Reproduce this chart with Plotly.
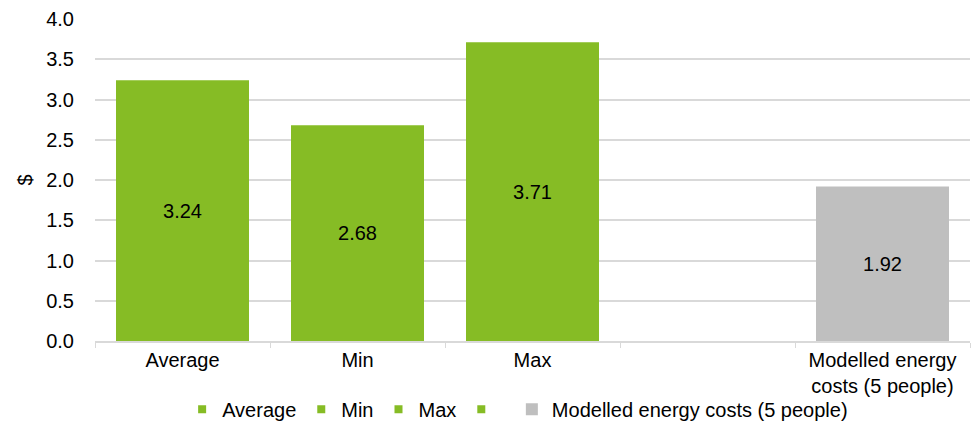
import plotly.graph_objects as go

categories = ["Average", "Min", "Max", " ", "Modelled energy<br>costs (5 people)"]
series_names = ["Average", "Min", "Max", " ", "Modelled energy costs (5 people)"]
values = [3.24, 2.68, 3.71, None, 1.92]
labels = ["3.24", "2.68", "3.71", "", "1.92"]
colors = ["#86BC25", "#86BC25", "#86BC25", "#86BC25", "#BFBFBF"]
legend_sizes = [8, 8, 8, 8, 12]
y_ticks = [0, 0.5, 1.0, 1.5, 2.0, 2.5, 3.0, 3.5, 4.0]
y_ticklabels = ["0.0", "0.5", "1.0", "1.5", "2.0", "2.5", "3.0", "3.5", "4.0"]

FONT = "Liberation Sans, Arial, sans-serif"
FS = 20

fig = go.Figure()
for i in range(len(categories)):
    fig.add_trace(go.Bar(
        x=[categories[i]], y=[values[i]],
        text=[labels[i]], textposition="inside", insidetextanchor="middle",
        textangle=0, constraintext="none",
        textfont=dict(family=FONT, size=FS, color="#000000"),
        marker=dict(color=colors[i], line=dict(width=0)),
        showlegend=False, hoverinfo="skip", cliponaxis=False,
    ))
for i in range(len(series_names)):
    fig.add_trace(go.Scatter(
        x=[None], y=[None], mode="markers", name=series_names[i],
        marker=dict(symbol="square", size=legend_sizes[i], color=colors[i]),
        showlegend=True,
    ))

fig.update_layout(
    width=980, height=425,
    margin=dict(l=95, r=10, t=19, b=84, autoexpand=False),
    paper_bgcolor="white", plot_bgcolor="white",
    barmode="overlay", bargap=0.24,
    font=dict(family=FONT, size=FS, color="#000000"),
    legend=dict(orientation="h", x=0.483, xanchor="center",
                yref="container", y=0.037, yanchor="middle",
                font=dict(family=FONT, size=FS), itemwidth=30, traceorder="normal",
                bgcolor="rgba(0,0,0,0)"),
    xaxis=dict(type="category", categoryorder="array", categoryarray=categories,
               range=[-0.5, 4.5], showline=True, linecolor="#D9D9D9", linewidth=1.5,
               ticks="outside", tickson="boundaries", ticklen=5, tickcolor="#D9D9D9",
               showgrid=False, automargin=False, tickfont=dict(family=FONT, size=FS)),
    yaxis=dict(range=[0, 4], tickvals=y_ticks, ticktext=y_ticklabels,
               showgrid=True, gridcolor="#D9D9D9", gridwidth=1.5, zeroline=False,
               showline=False, ticks="", ticklabelstandoff=20, automargin=False,
               tickfont=dict(family=FONT, size=FS),
               title=dict(text="$", standoff=8, font=dict(family=FONT, size=FS))),
)

fig.write_html("out.html")
